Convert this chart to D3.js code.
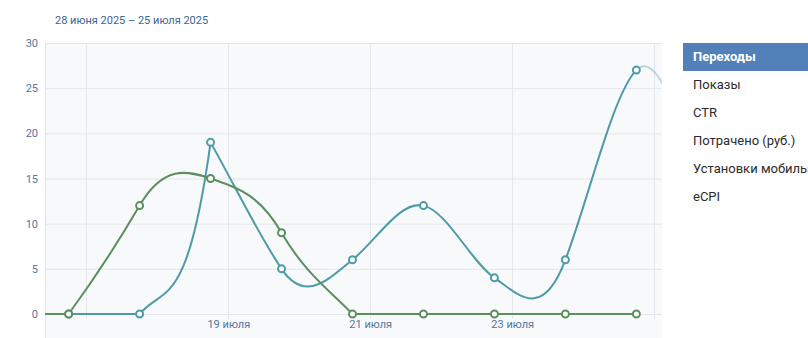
<!DOCTYPE html>
<html>
<head>
<meta charset="utf-8">
<script src="https://cdn.jsdelivr.net/npm/d3@7"></script>
<style>
  html, body { margin: 0; padding: 0; background: #fff; }
  svg { display: block; }
  .menu text { font-family: Roboto, "Open Sans", sans-serif; font-size: 13px; fill: #2b2b2b; }
  .menu text.active { fill: #fff; font-weight: bold; }
  .tick text { font-family: Roboto, "DejaVu Sans", sans-serif; font-size: 11px; fill: #55759c; }
</style>
</head>
<body>
<svg id="chart" width="808" height="338"></svg>
<script>
// --- Data ---

const title = '28 июня 2025 – 25 июля 2025';
const menuItems = ['Переходы', 'Показы', 'CTR', 'Потрачено (руб.)', 'Установки мобильных приложений', 'eCPI'];

// days of July; 16 and 26 lie just outside the visible range
const daysTeal = [16, 17, 18, 19, 20, 21, 22, 23, 24, 25, 26];
const clicks = [0, 0, 0, 19, 5, 6, 12, 4, 6, 27, 15];
const daysGreen = [16, 17, 18, 19, 20, 21, 22, 23, 24, 25];
const other = [0, 0, 12, 15, 9, 0, 0, 0, 0, 0];

const yTicks = [0, 5, 10, 15, 20, 25, 30];
const xTickDays = [17, 19, 21, 23, 25];

const monthsGen = ['января', 'февраля', 'марта', 'апреля', 'мая', 'июня', 'июля',
  'августа', 'сентября', 'октября', 'ноября', 'декабря'];

const tealColor = '#4d9ba6';
const greenColor = '#5b8f5e';

// --- Layout ---

const W = 808, H = 338;
const plot = { left: 45, right: 660, top: 43, bottom: 314 };

const svg = d3.select('#chart');

const day = d => new Date(new Date(2025, 6, 1).getTime() + (d - 1) * 864e5);

// ticks sit six hours after the data points
const x = d3.scaleTime()
  .domain([d3.timeHour.offset(day(16), 16.2), d3.timeHour.offset(day(25), 8.1)])
  .range([plot.left, plot.right]);

const y = d3.scaleLinear()
  .domain([0, 30])
  .range([plot.bottom, plot.top]);

const px = d => x(day(d));

// Background
svg.append('rect')
  .attr('x', plot.left).attr('y', plot.top)
  .attr('width', plot.right - plot.left + 2).attr('height', H - plot.top)
  .attr('fill', '#f8f9fb');

// Title
svg.append('text')
  .attr('x', 55).attr('y', 24)
  .attr('font-family', 'Roboto, "DejaVu Sans", sans-serif')
  .attr('font-size', 11)
  .attr('fill', '#3d6494')
  .text(title);

// Horizontal grid
svg.append('g')
  .selectAll('line')
  .data(yTicks)
  .join('line')
  .attr('x1', plot.left).attr('x2', plot.right + 2)
  .attr('y1', d => y(d) + 0.5).attr('y2', d => y(d) + 0.5)
  .attr('stroke', '#e3e6eb');

// Vertical grid
const xTickDates = xTickDays.map(d => d3.timeHour.offset(day(d), 6));
svg.append('g')
  .selectAll('line')
  .data(xTickDates)
  .join('line')
  .attr('x1', d => Math.round(x(d)) + 0.5).attr('x2', d => Math.round(x(d)) + 0.5)
  .attr('y1', plot.top).attr('y2', plot.bottom + 5)
  .attr('stroke', '#e3e6eb');

// Left axis line
svg.append('line')
  .attr('x1', plot.left + 0.5).attr('x2', plot.left + 0.5)
  .attr('y1', plot.top).attr('y2', H)
  .attr('stroke', '#dfe2e8');

// Y axis labels
svg.append('g')
  .attr('transform', `translate(${plot.left},0)`)
  .call(d3.axisLeft(y).tickValues(yTicks).tickSize(0).tickPadding(7))
  .call(g => g.select('.domain').remove());

// X axis labels
svg.append('g')
  .attr('transform', `translate(0,${plot.bottom})`)
  .call(d3.axisBottom(x)
    .tickValues(xTickDates.slice(1, 4))
    .tickSize(0)
    .tickPadding(6)
    .tickFormat(d => `${d.getDate()} ${monthsGen[d.getMonth()]}`))
  .call(g => g.select('.domain').remove());

// --- Spline ---
// Cardinal-like tangents (tension < 0), flat runs stay straight,
// steep spikes get a sharp tip.

const SLACK = 1.8;
const SPIKE = 12;

function tangents(vals) {
  const n = vals.length;
  const res = vals.map((v, i) => {
    const sL = i > 0 ? v - vals[i - 1] : null;
    const sR = i < n - 1 ? vals[i + 1] - v : null;
    let base;
    if (sL === null) base = sR;
    else if (sR === null) base = sL;
    else base = SLACK * (sL + sR) / 2;
    let tin = base, tout = base, spike = 0;
    if (sL === 0) tin = 0;
    if (sR === 0) tout = 0;
    if (sL !== null && sR !== null && sL * sR < 0 &&
        Math.abs(sL) > SPIKE && Math.abs(sR) > SPIKE) {
      spike = Math.abs(sL) >= Math.abs(sR) ? -1 : 1;
      if (spike < 0) { tin = 3 * sL; tout = sR; }
      else { tin = sL; tout = 3 * sR; }
    }
    return { tin, tout, spike, sL, sR };
  });
  // soften the approach into a spike
  res.forEach((r, i) => {
    if (r.spike < 0 && i > 0) {
      const prev = res[i - 1];
      prev.tout = Math.sign(r.sL) * Math.min(Math.abs(prev.tout), Math.abs(r.sL) / 2);
    }
    if (r.spike > 0 && i < res.length - 1) {
      const next = res[i + 1];
      next.tin = Math.sign(r.sR) * Math.min(Math.abs(next.tin), Math.abs(r.sR) / 2);
    }
  });
  return res;
}

function splinePath(days, vals) {
  const t = tangents(vals);
  const p = d3.path();
  p.moveTo(px(days[0]), y(vals[0]));
  for (let i = 0; i < days.length - 1; i++) {
    const h = days[i + 1] - days[i];
    if (vals[i] === vals[i + 1]) {
      p.lineTo(px(days[i + 1]), y(vals[i + 1]));
      continue;
    }
    p.bezierCurveTo(
      px(days[i] + h / 3), y(vals[i] + t[i].tout * h / 3),
      px(days[i + 1] - h / 3), y(vals[i + 1] - t[i + 1].tin * h / 3),
      px(days[i + 1]), y(vals[i + 1]));
  }
  return p.toString();
}

// --- Lines ---

const defs = svg.append('defs');
defs.append('clipPath').attr('id', 'clip-main')
  .append('rect')
  .attr('x', plot.left).attr('y', 0)
  .attr('width', px(25) - plot.left).attr('height', H);
defs.append('clipPath').attr('id', 'clip-fade')
  .append('rect')
  .attr('x', px(25)).attr('y', 0)
  .attr('width', plot.right + 2 - px(25)).attr('height', H);

const tealPath = splinePath(daysTeal, clicks);
const greenPath = splinePath(daysGreen, other);

svg.append('path')
  .attr('d', tealPath)
  .attr('clip-path', 'url(#clip-fade)')
  .attr('fill', 'none')
  .attr('stroke', tealColor)
  .attr('stroke-opacity', 0.35)
  .attr('stroke-width', 2);

svg.append('path')
  .attr('d', tealPath)
  .attr('clip-path', 'url(#clip-main)')
  .attr('fill', 'none')
  .attr('stroke', tealColor)
  .attr('stroke-width', 2);

svg.append('path')
  .attr('d', greenPath)
  .attr('clip-path', 'url(#clip-main)')
  .attr('fill', 'none')
  .attr('stroke', greenColor)
  .attr('stroke-width', 2);

// Markers (visible days only)
function markers(days, vals, color) {
  const pts = days.map((d, i) => [d, vals[i]]).filter(d => d[0] >= 17 && d[0] <= 25);
  svg.append('g')
    .selectAll('circle')
    .data(pts)
    .join('circle')
    .attr('cx', d => px(d[0]))
    .attr('cy', d => y(d[1]))
    .attr('r', 3.5)
    .attr('fill', '#fff')
    .attr('stroke', color)
    .attr('stroke-width', 2);
}
markers(daysTeal, clicks, tealColor);
markers(daysGreen, other, greenColor);

// --- Menu ---

const menu = svg.append('g').attr('class', 'menu');
menu.append('rect')
  .attr('x', 683).attr('y', 43)
  .attr('width', W - 683).attr('height', 28)
  .attr('fill', '#5181b8');

menu.selectAll('text')
  .data(menuItems)
  .join('text')
  .attr('class', (d, i) => i === 0 ? 'active' : null)
  .attr('x', 693)
  .attr('y', (d, i) => 61 + i * 28)
  .text(d => d);
</script>
</body>
</html>
